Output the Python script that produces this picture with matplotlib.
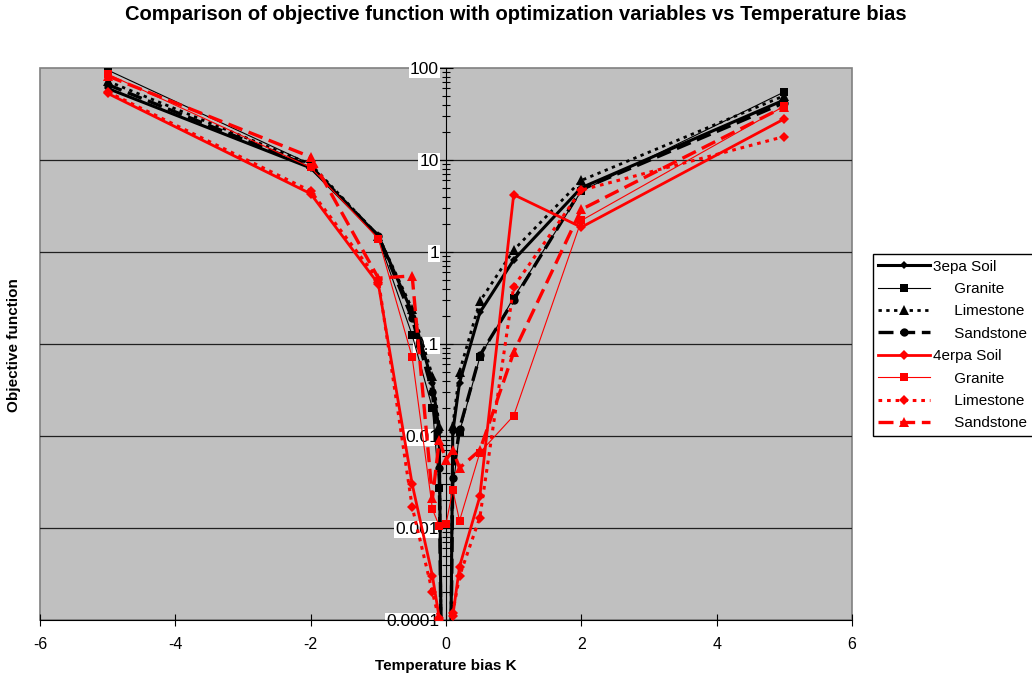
import matplotlib
matplotlib.use("Agg")
import matplotlib.pyplot as plt
from matplotlib.patches import Rectangle
from matplotlib.ticker import LogLocator, FixedLocator, FixedFormatter, NullFormatter

plt.rcParams['font.family'] = ['Liberation Sans', 'DejaVu Sans']

# temperature bias points (K)
x_3epa = [-5, -2, -1, -0.5, -0.2, -0.1, -0.05, 0.05, 0.1, 0.2, 0.5, 1, 2, 5]
x_4erpa = [-5, -2, -1, -0.5, -0.2, -0.1, 0, 0.1, 0.2, 0.5, 1, 2, 5]

# objective function, 3epa runs (values below 1e-4 fall off the axis)
soil_3 = [60, 8.2, 1.5, 0.22, 0.038, 0.011, 1e-6, 1e-6, 0.011, 0.038, 0.22, 0.82, 5.0, 45]
granite_3 = [95, 9.0, 1.4, 0.125, 0.02, 0.0027, 1e-6, 1e-6, 0.0026, 0.011, 0.072, 0.32, 4.6, 55]
limestone_3 = [72, 9.0, 1.5, 0.24, 0.045, 0.013, 1e-6, 1e-6, 0.013, 0.05, 0.29, 1.05, 6.0, 50]
sandstone_3 = [66, 8.5, 1.5, 0.19, 0.03, 0.0045, 1e-6, 1e-6, 0.0035, 0.012, 0.075, 0.30, 4.8, 42]

# objective function, 4erpa runs
soil_4 = [53, 4.3, 0.45, 0.003, 0.0003, 0.000105, 1e-6, 0.00011, 0.00038, 0.0022, 4.2, 1.86, 28]
granite_4 = [86, 8.3, 1.4, 0.072, 0.0016, 0.00105, 0.0011, 0.0026, 0.0012, 0.0066, 0.0166, 2.2, 38.6]
limestone_4 = [55, 4.6, 0.5, 0.0017, 0.0002, 0.0001, 1e-6, 0.00012, 0.0003, 0.0013, 0.42, 4.7, 18]
sandstone_4 = [82, 10.8, 0.52, 0.55, 0.0021, 0.009, 0.0055, 0.007, 0.0045, 0.007, 0.081, 2.9, 38]

labels = ['3epa Soil', '     Granite', '     Limestone', '     Sandstone',
          '4erpa Soil', '     Granite', '     Limestone', '     Sandstone']

y_ticks = [0.0001, 0.001, 0.01, 0.1, 1, 10, 100]
y_ticklabels = ['0.0001', '0.001', '0.01', '0.1', '1', '10', '100']
x_ticks = [-6, -4, -2, 0, 2, 4, 6]

fig = plt.figure(figsize=(10.32, 6.81), dpi=100)
ax = fig.add_axes([40 / 1032, 61 / 681, 812 / 1032, 552 / 681])
ax.set_facecolor('#c0c0c0')

dotted = (0, (1.2, 1.6))
dashed = (0, (4.5, 2))

series = [
    (x_3epa, soil_3, 'black', '-', 2.2, 'D', 4.5),
    (x_3epa, granite_3, 'black', '-', 0.8, 's', 6),
    (x_3epa, limestone_3, 'black', dotted, 2.0, '^', 6.5),
    (x_3epa, sandstone_3, 'black', dashed, 2.4, 'o', 6),
    (x_4erpa, soil_4, 'red', '-', 2.0, 'D', 5),
    (x_4erpa, granite_4, 'red', '-', 0.8, 's', 6),
    (x_4erpa, limestone_4, 'red', dotted, 2.2, 'D', 5),
    (x_4erpa, sandstone_4, 'red', dashed, 2.4, '^', 6.5),
]
for (xs, ys, col, ls, lw, mk, ms), lab in zip(series, labels):
    ax.plot(xs, ys, color=col, linestyle=ls, linewidth=lw, marker=mk,
            markersize=ms, markeredgewidth=0, label=lab, zorder=3)

ax.set_yscale('log')
ax.set_xlim(-6, 6)
ax.set_ylim(0.0001, 100)

for y in y_ticks[1:-1]:
    ax.axhline(y, color='#202020', linewidth=0.9, zorder=1)

# y axis crosses at x = 0
ax.spines['left'].set_position(('data', 0))
ax.spines['left'].set_color('black')
ax.spines['left'].set_zorder(2)
ax.spines['bottom'].set_color('black')
ax.spines['top'].set_visible(False)
ax.spines['right'].set_visible(False)
ax.add_patch(Rectangle((0, 0), 1, 1, transform=ax.transAxes, fill=False,
                       edgecolor='#808080', linewidth=1.2, zorder=0, clip_on=False))

ax.yaxis.set_major_locator(FixedLocator(y_ticks))
ax.yaxis.set_major_formatter(FixedFormatter(y_ticklabels))
ax.yaxis.set_minor_locator(LogLocator(base=10, subs=range(2, 10), numticks=20))
ax.yaxis.set_minor_formatter(NullFormatter())
ax.tick_params(axis='y', which='major', direction='inout', length=10, width=0.8,
               labelsize=12.5, pad=0)
ax.tick_params(axis='y', which='minor', direction='inout', length=6, width=0.8)
for t in ax.get_yticklabels():
    t.set_bbox(dict(facecolor='white', edgecolor='none', pad=1))

ax.set_xticks(x_ticks)
ax.set_xticklabels([str(v) for v in x_ticks])
ax.tick_params(axis='x', direction='inout', length=9, width=0.8, labelsize=11.5, pad=8)

fig.text(516 / 1032, 1 - 15 / 681, 'Comparison of objective function with optimization variables vs Temperature bias',
         ha='center', va='center', fontsize=14.5, fontweight='bold')
fig.text(14 / 1032, 1 - 345 / 681, 'Objective function', rotation=90,
         ha='center', va='center', fontsize=11, fontweight='bold')
fig.text(446 / 1032, 1 - 666 / 681, 'Temperature bias K',
         ha='center', va='center', fontsize=11, fontweight='bold')

leg = ax.legend(loc='center left', bbox_to_anchor=(873 / 1032, 1 - 345 / 681),
                bbox_transform=fig.transFigure, fontsize=11, frameon=True,
                fancybox=False, edgecolor='black', framealpha=1,
                handlelength=3.4, handletextpad=0.2, labelspacing=0.55,
                borderpad=0.35, borderaxespad=0)
leg.get_frame().set_linewidth(1.0)

fig.savefig('out.png', dpi=100)
